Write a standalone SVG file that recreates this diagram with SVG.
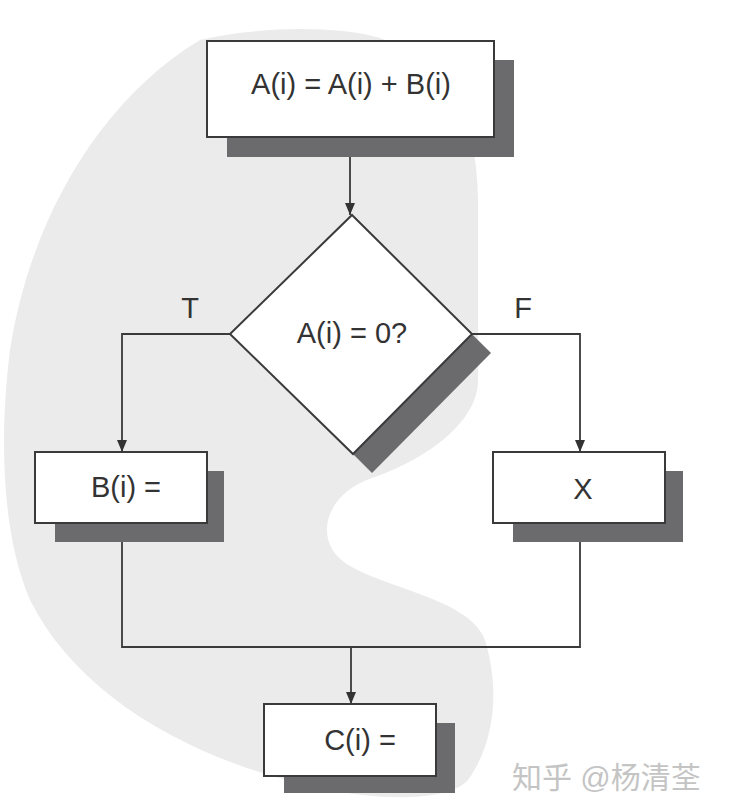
<svg xmlns="http://www.w3.org/2000/svg" width="749" height="807" viewBox="0 0 749 807">
  <style>
    .shadow { fill: #6b6b6d; }
    .box { fill: #ffffff; stroke: #3a3a3a; stroke-width: 2; }
    .lbl { font-family: "Liberation Sans", Arial, sans-serif; font-size: 29px; fill: #333333; text-anchor: middle; }
    .conn { fill: none; stroke: #3a3a3a; stroke-width: 1.8; }
    .wm { font-family: "Liberation Sans", "Noto Sans CJK SC", sans-serif; font-size: 30px; fill: #c4c4c4; }
  </style>
  <defs>
    <marker id="arrow" markerUnits="userSpaceOnUse" markerWidth="12" markerHeight="16" refX="12" refY="5" orient="auto">
      <path d="M0,0 L12,5 L0,10 Z" fill="#333333"/>
    </marker>
  </defs>
  <rect width="749" height="807" fill="#ffffff"/>
  <path id="blob" d="M200,40 C250,28 330,24 380,38 C440,58 478,110 478,200 L478,380 C478,425 420,462 372,478 C322,495 312,545 350,566 C392,590 470,600 485,640 C500,690 495,742 468,780 C448,802 380,800 330,790 C200,765 80,700 30,600 C0,530 0,430 10,350 C30,220 100,100 200,40 Z" fill="#ebebeb"/>

  <g id="connectors">
    <path class="conn" d="M350,137 V215" marker-end="url(#arrow)"/>
    <path class="conn" d="M230,334 H122 V452" marker-end="url(#arrow)"/>
    <path class="conn" d="M472,334 H580 V452" marker-end="url(#arrow)"/>
    <path class="conn" d="M122,523 V647 H580 V523"/>
    <path class="conn" d="M351,647 V704" marker-end="url(#arrow)"/>
  </g>

  <g id="node-top">
    <rect class="shadow" x="227" y="60" width="287" height="97"/>
    <rect class="box" x="207" y="41" width="287" height="96"/>
    <text class="lbl" x="351" y="94">A(i) = A(i) + B(i)</text>
  </g>

  <g id="node-decision">
    <polygon class="shadow" points="371,234 491,353 372,473 252,353"/>
    <polygon class="box" points="352,215 472,334 353,454 230,334"/>
    <text class="lbl" x="352" y="343">A(i) = 0?</text>
  </g>

  <g id="label-T"><text class="lbl" x="190" y="318">T</text></g>
  <g id="label-F"><text class="lbl" x="523" y="318">F</text></g>

  <g id="node-B">
    <rect class="shadow" x="55" y="471" width="169" height="71"/>
    <rect class="box" x="35" y="452" width="172" height="71"/>
    <text class="lbl" x="126" y="497">B(i) =</text>
  </g>

  <g id="node-X">
    <rect class="shadow" x="513" y="471" width="170" height="71"/>
    <rect class="box" x="493" y="452" width="172" height="71"/>
    <text class="lbl" x="583" y="499">X</text>
  </g>

  <g id="node-C">
    <rect class="shadow" x="284" y="723" width="171" height="70"/>
    <rect class="box" x="264" y="704" width="172" height="72"/>
    <text class="lbl" x="360" y="750">C(i) =</text>
  </g>

  <g id="watermark">
    <text class="wm" x="512" y="788">知乎 @杨清荃</text>
  </g>
</svg>
